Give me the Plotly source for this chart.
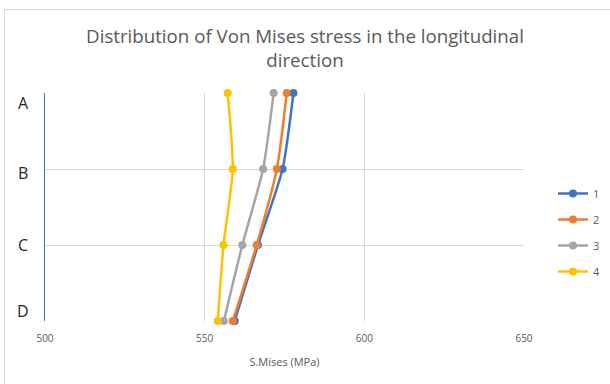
import plotly.graph_objects as go

categories = ["A", "B", "C", "D"]
series_names = ["1", "2", "3", "4"]
s1 = [577.8, 574.4, 566.7, 559.4]
s2 = [575.7, 572.6, 566.3, 558.8]
s3 = [571.6, 568.3, 561.8, 556.0]
s4 = [557.2, 558.8, 555.9, 554.1]
colors = ["#4472C4", "#ED7D31", "#A5A5A5", "#FFC000"]
x_ticks = [500, 550, 600, 650]

W, H = 610, 384
ml, mr, mt, mb = 45, 86, 93, 63
pw, ph = W - ml - mr, H - mt - mb

fig = go.Figure()
for i, (name, vals) in enumerate(zip(series_names, [s1, s2, s3, s4])):
    fig.add_trace(go.Scatter(
        x=vals, y=categories, name=name, mode="lines+markers",
        line=dict(color=colors[i], width=2.5, shape="spline", smoothing=0.6),
        marker=dict(color=colors[i], size=8),
        cliponaxis=False, legendgroup=name,
    ))

def px_x(p):
    return (p - ml) / pw

def px_y(p):
    return (H - mb - p) / ph

# category labels, kept inside the plot's vertical extent as in the reference
label_shift = [-10, -4, 0, 10]
annotations = [
    dict(text=c, xref="paper", yref="y", x=px_x(23), y=c, xanchor="center",
         yanchor="middle", yshift=s, showarrow=False,
         font=dict(size=16, color="#262626"))
    for c, s in zip(categories, label_shift)
]

fig.update_layout(
    width=W, height=H,
    margin=dict(l=ml, r=mr, t=mt, b=mb, autoexpand=False),
    paper_bgcolor="white", plot_bgcolor="white",
    font=dict(family="Open Sans, sans-serif", color="#595959"),
    title=dict(
        text="Distribution of Von Mises stress in the longitudinal<br>direction",
        x=0.5, xanchor="center", y=1 - 43 / H, yanchor="top",
        font=dict(size=18.7, color="#595959"),
    ),
    xaxis=dict(
        range=[500, 650], tickvals=x_ticks, ticktext=[str(v) for v in x_ticks],
        showgrid=True, gridcolor="#D9D9D9", gridwidth=1, zeroline=False,
        showline=False, tickfont=dict(size=10, color="#595959"),
        ticklabelstandoff=10,
        title=dict(text="S.Mises (MPa)", font=dict(size=11, color="#595959"), standoff=14),
        fixedrange=True,
    ),
    yaxis=dict(
        type="category", categoryorder="array", categoryarray=categories,
        range=[3, 0], showgrid=True, gridcolor="#D9D9D9", gridwidth=1,
        showline=True, linecolor="#4472C4", linewidth=1, zeroline=False,
        showticklabels=False, ticks="",
    ),
    annotations=annotations,
    legend=dict(
        x=px_x(553), y=px_y(179), xanchor="left", yanchor="top",
        font=dict(size=11, color="#595959"), tracegroupgap=7,
        bgcolor="rgba(0,0,0,0)", itemwidth=30,
    ),
    shapes=[
        dict(type="line", xref="paper", yref="paper",
             x0=px_x(4.5), x1=px_x(W + 2), y0=px_y(9.5), y1=px_y(9.5),
             line=dict(color="#D9D9D9", width=1)),
        dict(type="line", xref="paper", yref="paper",
             x0=px_x(4.5), x1=px_x(4.5), y0=px_y(9.5), y1=px_y(H + 2),
             line=dict(color="#D9D9D9", width=1)),
    ],
)

fig.write_html("out.html")
